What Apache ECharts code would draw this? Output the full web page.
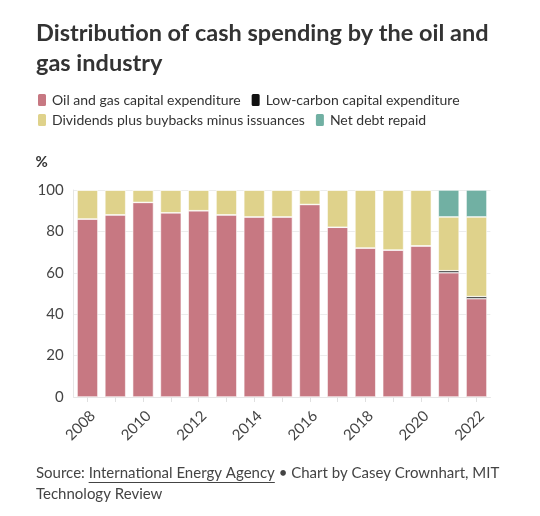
<!DOCTYPE html>
<html><head><meta charset="utf-8">
<script src="https://cdn.jsdelivr.net/npm/echarts@6/dist/echarts.min.js"></script>
<style>html,body{margin:0;padding:0;background:#fff}#c{width:540px;height:516px}</style>
</head><body><div id="c"></div>
<script>
const years = ['2008','2009','2010','2011','2012','2013','2014','2015','2016','2017','2018','2019','2020','2021','2022'];
const oilGasCapex = [86, 88, 94, 89, 90, 88, 87, 87, 93, 82, 72, 71, 73, 60, 47.5];
const lowCarbonCapex = [0, 0, 0, 0, 0, 0, 0, 0, 0, 0, 0, 0, 0, 1, 1];
const dividends = [14, 12, 6, 11, 10, 12, 13, 13, 7, 18, 28, 29, 27, 26, 38.5];
const netDebtRepaid = [0, 0, 0, 0, 0, 0, 0, 0, 0, 0, 0, 0, 0, 13, 13];
const yTicks = [0, 20, 40, 60, 80, 100];

const FONT = 'Lato';
const chart = echarts.init(document.getElementById('c'), null, {renderer: 'canvas'});

function measure(t, font) {
  const c = document.createElement('canvas').getContext('2d');
  c.font = font; return c.measureText(t).width;
}
const srcFont = '15px ' + FONT;
const s1 = 'Source: ';
const s2 = 'International Energy Agency';
const x0 = 36;
const w1 = measure(s1, srcFont), w2 = measure(s2, srcFont);

const mk = (name, data, color) => ({
  name, type: 'bar', stack: 'a', data, barWidth: '75%',
  itemStyle: {color, borderColor: '#fff', borderWidth: 0.6},
  emphasis: {disabled: true}
});

const legendText = {color: '#333', fontSize: 14, fontFamily: FONT};
chart.setOption({
  animation: false,
  textStyle: {fontFamily: FONT},
  legend: [
    {data: ['Oil and gas capital expenditure', 'Low-carbon capital expenditure'], left: 36, top: 92, padding: 0,
     icon: 'roundRect', itemWidth: 10, itemHeight: 14, itemGap: 9, textStyle: legendText, selectedMode: false},
    {data: ['Dividends plus buybacks minus issuances', 'Net debt repaid'], left: 36, top: 112, padding: 0,
     icon: 'roundRect', itemWidth: 10, itemHeight: 14, itemGap: 9, textStyle: legendText, selectedMode: false}
  ],
  grid: {left: 73.6, right: 49.6, top: 190, bottom: 119, containLabel: false},
  xAxis: {
    type: 'category', data: years,
    axisLine: {show: true, lineStyle: {color: '#e6e6e6'}},
    axisTick: {show: true, alignWithLabel: true, interval: 0, length: 5, lineStyle: {color: '#e0e0e0'}},
    axisLabel: {interval: 1, rotate: 45, color: '#444', fontSize: 15, fontFamily: FONT, margin: 11, verticalAlign: 'top'}
  },
  yAxis: {
    type: 'value', min: yTicks[0], max: yTicks[yTicks.length - 1], interval: 20,
    name: '%', nameLocation: 'end', nameGap: 20,
    nameTextStyle: {align: 'left', padding: [0, 0, 0, -38], color: '#333', fontSize: 15, fontWeight: 'bold', fontFamily: FONT},
    axisLine: {show: true, lineStyle: {color: '#e6e6e6'}},
    axisTick: {show: false},
    splitLine: {lineStyle: {color: '#ececec'}},
    axisLabel: {color: '#444', fontSize: 15, fontFamily: FONT, margin: 10}
  },
  series: [
    mk('Oil and gas capital expenditure', oilGasCapex, '#c77882'),
    mk('Low-carbon capital expenditure', lowCarbonCapex, '#111111'),
    mk('Dividends plus buybacks minus issuances', dividends, '#dfd28b'),
    mk('Net debt repaid', netDebtRepaid, '#71b0a3')
  ],
  graphic: [
    {type: 'text', left: 36, top: 18, style: {text: 'Distribution of cash spending by the oil and\ngas industry',
      font: 'bold 23.5px ' + FONT, fill: '#333', lineHeight: 30}},
    {type: 'text', x: x0, y: 466, style: {text: s1, font: srcFont, fill: '#444'}},
    {type: 'text', x: x0 + w1, y: 466, style: {text: s2, font: srcFont, fill: '#444'}},
    {type: 'line', shape: {x1: x0 + w1, y1: 482.5, x2: x0 + w1 + w2, y2: 482.5}, style: {stroke: '#444', lineWidth: 1}},
    {type: 'text', x: x0 + w1 + w2, y: 466, style: {text: ' \u2022 Chart by Casey Crownhart, MIT', font: srcFont, fill: '#444'}},
    {type: 'text', x: x0, y: 487, style: {text: 'Technology Review', font: srcFont, fill: '#444'}}
  ]
});
</script></body></html>
